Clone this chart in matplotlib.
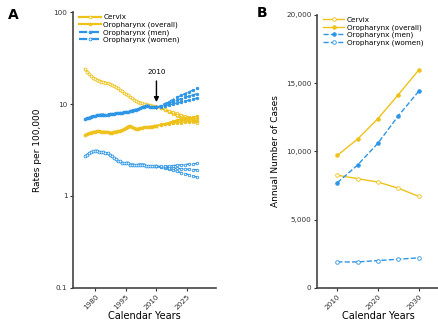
import matplotlib.pyplot as plt
from matplotlib import font_manager

YELLOW = "#EEC21B"
BLUE = "#2C95E6"

# Panel A: observed rates per 100,000 (1975-2010)
years_obs = list(range(1975, 2011))
cervix_obs = [24.0, 22.5, 21.2, 20.2, 19.4, 18.8, 18.4, 18.0, 17.6, 17.3,
              17.1, 16.9, 16.6, 16.2, 15.8, 15.3, 14.8, 14.3, 13.8, 13.3,
              12.8, 12.4, 12.0, 11.6, 11.2, 10.9, 10.6, 10.4, 10.2, 10.0,
              9.9, 9.8, 9.7, 9.6, 9.5, 9.4]
oro_obs = [4.6, 4.7, 4.8, 4.9, 5.0, 5.0, 5.1, 5.1, 5.0, 5.0,
           5.0, 5.0, 4.9, 4.9, 5.0, 5.0, 5.1, 5.1, 5.2, 5.3,
           5.5, 5.7, 5.8, 5.6, 5.5, 5.4, 5.4, 5.5, 5.5, 5.6,
           5.6, 5.6, 5.7, 5.7, 5.8, 5.8]
men_obs = [6.8, 7.0, 7.1, 7.3, 7.4, 7.5, 7.6, 7.6, 7.7, 7.7,
           7.7, 7.7, 7.8, 7.8, 7.8, 7.9, 7.9, 8.0, 8.0, 8.1,
           8.2, 8.3, 8.4, 8.5, 8.6, 8.7, 8.8, 9.0, 9.2, 9.4,
           9.6, 9.6, 9.4, 9.3, 9.2, 9.2]
women_obs = [2.7, 2.8, 2.9, 3.0, 3.1, 3.1, 3.1, 3.0, 3.0, 3.0,
             2.9, 2.9, 2.8, 2.7, 2.6, 2.5, 2.4, 2.4, 2.3, 2.3,
             2.3, 2.3, 2.2, 2.2, 2.2, 2.2, 2.2, 2.2, 2.2, 2.2,
             2.1, 2.1, 2.1, 2.1, 2.1, 2.1]

# Panel A: projected rates (2010-2030), three scenarios each
years_proj = list(range(2010, 2031, 2))
cervix_proj = [
    [9.4, 9.0, 8.6, 8.2, 7.8, 7.4, 7.1, 6.8, 6.6, 6.4, 6.2],
    [9.4, 9.0, 8.7, 8.3, 8.0, 7.7, 7.4, 7.1, 6.9, 6.7, 6.5],
    [9.4, 9.1, 8.8, 8.5, 8.2, 7.9, 7.7, 7.4, 7.2, 7.0, 6.9],
]
oro_proj = [
    [5.8, 5.9, 6.0, 6.1, 6.2, 6.3, 6.3, 6.4, 6.4, 6.5, 6.5],
    [5.8, 5.9, 6.0, 6.2, 6.3, 6.5, 6.6, 6.7, 6.8, 6.9, 7.0],
    [5.8, 6.0, 6.1, 6.3, 6.5, 6.7, 6.9, 7.0, 7.1, 7.2, 7.4],
]
men_proj = [
    [9.2, 9.4, 9.6, 9.8, 10.0, 10.3, 10.5, 10.8, 11.0, 11.3, 11.6],
    [9.2, 9.5, 9.8, 10.2, 10.6, 11.0, 11.4, 11.8, 12.2, 12.6, 13.0],
    [9.2, 9.6, 10.1, 10.6, 11.2, 11.8, 12.4, 13.0, 13.6, 14.2, 14.8],
]
women_proj = [
    [2.1, 2.05, 2.0, 1.95, 1.9, 1.85, 1.8, 1.75, 1.7, 1.65, 1.6],
    [2.1, 2.08, 2.06, 2.04, 2.02, 2.0, 1.98, 1.96, 1.95, 1.94, 1.93],
    [2.1, 2.1, 2.11, 2.12, 2.14, 2.16, 2.18, 2.2, 2.22, 2.24, 2.26],
]

# Panel B: annual number of cases
years_b = [2010, 2015, 2020, 2025, 2030]
cervix_cases = [8250, 8000, 7750, 7300, 6700]
oro_cases = [9700, 10900, 12400, 14150, 15950]
men_cases = [7700, 9000, 10600, 12600, 14400]
women_cases = [1900, 1900, 2000, 2100, 2200]

labels = ["Cervix", "Oropharynx (overall)", "Oropharynx (men)", "Oropharynx (women)"]

# narrow sans if there is one, else plain DejaVu
names = {f.name for f in font_manager.fontManager.ttflist}
family = [n for n in ("Liberation Sans Narrow", "DejaVu Sans Condensed") if n in names]
plt.rcParams["font.family"] = family + ["DejaVu Sans"]
plt.rcParams["font.size"] = 6.5
narrow = bool(family)
small = 6 if narrow else 5.2

fig = plt.figure(figsize=(4.39, 3.29), dpi=100)
ax_a = fig.add_axes([0.166, 0.125, 0.325, 0.838])
ax_b = fig.add_axes([0.722, 0.125, 0.278, 0.83])

styles = [
    dict(color=YELLOW, ls="-", marker="o", mfc="white"),
    dict(color=YELLOW, ls="-", marker="o", mfc=YELLOW),
    dict(color=BLUE, ls="--", marker="o", mfc=BLUE),
    dict(color=BLUE, ls="--", marker="o", mfc="white"),
]

obs = [cervix_obs, oro_obs, men_obs, women_obs]
proj = [cervix_proj, oro_proj, men_proj, women_proj]
for st, o, p, lab in zip(styles, obs, proj, labels):
    ax_a.plot(years_obs, o, lw=1.6, ms=2.0, mew=0.6, label=lab, **st)
    for scen in p:
        ax_a.plot(years_proj, scen, lw=1.0, ms=1.8, mew=0.6, **st)

ax_a.set_yscale("log")
ax_a.set_ylim(0.1, 100)
ax_a.set_xlim(1969, 2039)
ax_a.set_yticks([0.1, 1, 10, 100])
ax_a.set_yticklabels(["0.1", "1", "10", "100"])
ax_a.minorticks_off()
ax_a.set_xticks([1980, 1995, 2010, 2025])
ax_a.set_ylabel("Rates per 100,000", labelpad=8)
ax_a.annotate("2010", xy=(2010, 9.8), xytext=(2010, 20.5), ha="center",
              va="bottom", fontsize=small,
              arrowprops=dict(arrowstyle="-|>", color="black", lw=1.0,
                              mutation_scale=7))

curves_b = [cervix_cases, oro_cases, men_cases, women_cases]
for st, c, lab in zip(styles, curves_b, labels):
    ax_b.plot(years_b, c, lw=1.0, ms=2.6, mew=0.6, label=lab, **st)

ax_b.set_ylim(0, 20000)
ax_b.set_xlim(2005, 2035)
ax_b.set_yticks([0, 5000, 10000, 15000, 20000])
ax_b.set_yticklabels(["0", "5,000", "10,000", "15,000", "20,000"])
ax_b.set_xticks([2010, 2020, 2030])
ax_b.set_ylabel("Annual Number of Cases")

for ax in (ax_a, ax_b):
    ax.set_xlabel("Calendar Years", fontsize=7, labelpad=0)
    for s in ("top", "right"):
        ax.spines[s].set_visible(False)
    for s in ("left", "bottom"):
        ax.spines[s].set_color("#444444")
        ax.spines[s].set_linewidth(1.2)
    ax.tick_params(colors="#333333", length=2.5, width=0.8, labelsize=small, pad=1.5)
    for t in ax.get_xticklabels():
        t.set_rotation(45)
        t.set_ha("right")
        t.set_rotation_mode("anchor")
    ax.legend(loc="upper left", frameon=False, fontsize=small, handlelength=3,
              labelspacing=0.15, borderpad=0.1, borderaxespad=0.2,
              handletextpad=0.3, bbox_to_anchor=(0.03, 1.0))

fig.text(0.018, 0.955, "A", fontsize=10, fontweight="bold", va="center")
fig.text(0.585, 0.96, "B", fontsize=10, fontweight="bold", va="center")

fig.savefig("out.png", dpi=100)
